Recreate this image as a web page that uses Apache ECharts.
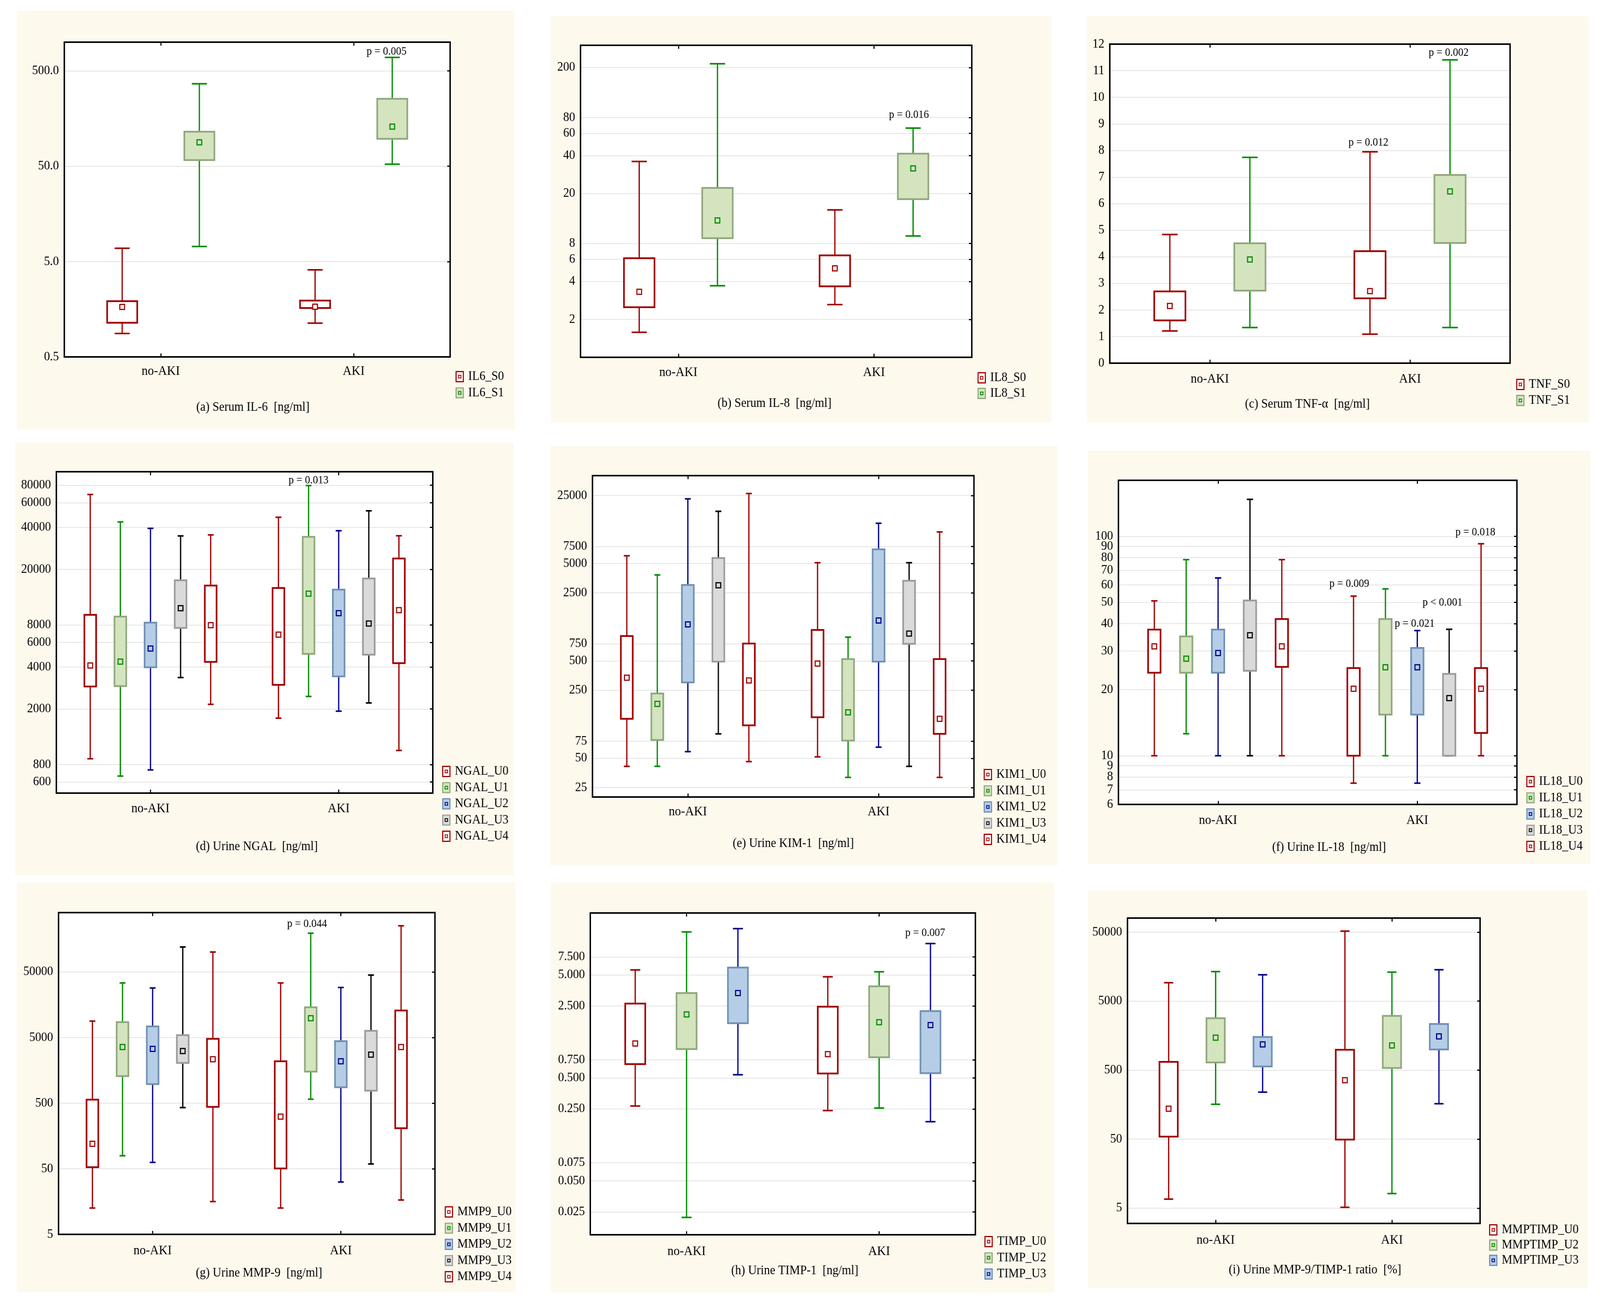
<!DOCTYPE html>
<html><head><meta charset="utf-8">
<script src="https://cdn.jsdelivr.net/npm/echarts@6/dist/echarts.min.js"></script>
<style>html,body{margin:0;padding:0;background:#fff;overflow:hidden}#c{width:4429px;height:3347px}</style>
</head><body><div id="c"></div>
<script>
// ---------- categories ----------
const categories = ['no-AKI', 'AKI'];

// ---------- data: per category [min, Q1, median, Q3, max] ----------
const IL6_S0 = [[0.88, 1.14, 1.67, 1.92, 6.9], [1.13, 1.63, 1.68, 1.95, 4.1]];
const IL6_S1 = [[7.2, 58, 89, 115, 366], [52.5, 97, 130, 255, 692]];

const IL8_S0 = [[1.58, 2.5, 3.31, 6.12, 35.9], [2.62, 3.66, 5.08, 6.44, 14.8]];
const IL8_S1 = [[3.7, 8.83, 12.2, 22.1, 214], [9.2, 18, 31.6, 41.4, 66]];

const TNF_S0 = [[1.21, 1.61, 2.15, 2.70, 4.84], [1.09, 2.44, 2.71, 4.21, 7.95]];
const TNF_S1 = [[1.34, 2.73, 3.90, 4.51, 7.74], [1.34, 4.52, 6.46, 7.08, 11.41]];

const NGAL_U0 = [[881, 2900, 4100, 9440, 68700], [1720, 2980, 6810, 14700, 47200]];
const NGAL_U1 = [[662, 2920, 4370, 9180, 43700], [2460, 4960, 13400, 34200, 79600]];
const NGAL_U2 = [[733, 3980, 5420, 8300, 39300], [1930, 3430, 9710, 14300, 37800]];
const NGAL_U3 = [[3360, 7610, 10540, 16700, 34700], [2210, 4900, 8190, 17200, 52500]];
const NGAL_U4 = [[2160, 4350, 7960, 15300, 35300], [1010, 4260, 10200, 23900, 34800]];

const KIM1_U0 = [[41.3, 127, 336, 900, 6010], [51.7, 132, 470, 1040, 5100]];
const KIM1_U1 = [[41.3, 77, 181, 231, 3820], [31.8, 76, 148, 522, 877]];
const KIM1_U2 = [[58.5, 301, 1186, 3010, 23100], [65, 492, 1300, 7000, 12970]];
const KIM1_U3 = [[89, 492, 2990, 5700, 17200], [41.3, 748, 955, 3330, 5100]];
const KIM1_U4 = [[46.2, 109, 315, 754, 26200], [31.8, 89, 127, 522, 10570]];

const IL18_U0 = [[10, 23.9, 31.5, 37.6, 50.8], [7.5, 10, 20.2, 25.1, 53.4]];
const IL18_U1 = [[12.6, 23.9, 27.7, 35.0, 78.3], [10, 15.4, 25.3, 42.0, 57.6]];
const IL18_U2 = [[10, 23.9, 29.4, 37.6, 64.6], [7.5, 15.4, 25.3, 31.0, 37.2]];
const IL18_U3 = [[10, 24.4, 35.4, 51.0, 147.4], [10, 10, 18.3, 23.6, 37.7]];
const IL18_U4 = [[10, 25.4, 31.5, 42.0, 78.3], [10, 12.7, 20.2, 25.1, 92.5]];

const MMP9_U0 = [[12.6, 52.8, 120, 564, 8890], [12.6, 50.5, 311, 2170, 33900]];
const MMP9_U1 = [[78.9, 1290, 3580, 8570, 33900], [574, 1510, 9840, 14400, 194000]];
const MMP9_U2 = [[62.5, 975, 3350, 7380, 28400], [31.4, 873, 2170, 4390, 28900]];
const MMP9_U3 = [[427, 2050, 3110, 5430, 119700], [59.1, 774, 2740, 6310, 44700]];
const MMP9_U4 = [[15.8, 439, 2330, 4770, 100300], [16.7, 207, 3580, 12900, 251600]];

const TIMP_U0 = [[0.267, 0.681, 1.08, 2.64, 5.60], [0.241, 0.553, 0.851, 2.46, 4.80]];
const TIMP_U2 = [[0.0221, 0.953, 2.07, 3.34, 13.1], [0.255, 0.794, 1.74, 3.88, 5.37]];
const TIMP_U3 = [[0.537, 1.70, 3.34, 5.90, 14.1], [0.188, 0.556, 1.63, 2.23, 10.1]];

const MMPTIMP_U0 = [[6.75, 54.3, 138, 658, 9250], [5.14, 49.3, 357, 988, 51800]];
const MMPTIMP_U2 = [[160, 646, 1480, 2830, 13400], [8.13, 537, 1140, 3060, 13150]];
const MMPTIMP_U3 = [[240, 566, 1180, 1510, 12050], [163, 996, 1540, 2330, 14260]];

// ---------- tick labels ----------
const ticksA = [0.5, 5, 50, 500];            const labelsA = ['0.5', '5.0', '50.0', '500.0'];
const ticksB = [2, 4, 6, 8, 20, 40, 60, 80, 200]; const labelsB = ['2', '4', '6', '8', '20', '40', '60', '80', '200'];
const ticksD = [600, 800, 2000, 4000, 6000, 8000, 20000, 40000, 60000, 80000];
const labelsD = ['600', '800', '2000', '4000', '6000', '8000', '20000', '40000', '60000', '80000'];
const ticksE = [25, 50, 75, 250, 500, 750, 2500, 5000, 7500, 25000];
const labelsE = ['25', '50', '75', '250', '500', '750', '2500', '5000', '7500', '25000'];
const ticksF = [6, 7, 8, 9, 10, 20, 30, 40, 50, 60, 70, 80, 90, 100];
const labelsF = ['6', '7', '8', '9', '10', '20', '30', '40', '50', '60', '70', '80', '90', '100'];
const ticksG = [5, 50, 500, 5000, 50000];     const labelsG = ['5', '50', '500', '5000', '50000'];
const ticksH = [0.025, 0.05, 0.075, 0.25, 0.5, 0.75, 2.5, 5, 7.5];
const labelsH = ['0.025', '0.050', '0.075', '0.250', '0.500', '0.750', '2.500', '5.000', '7.500'];
const ticksI = [5, 50, 500, 5000, 50000];     const labelsI = ['5', '50', '500', '5000', '50000'];

// ---------- styles ----------
const FONT = 'Liberation Serif';
const STY = {
  red:   { line: '#a00000', fill: '#ffffff', border: '#a00000' },
  green: { line: '#008c00', fill: '#d4e4bf', border: '#8fa77d' },
  blue:  { line: '#00008c', fill: '#b5cde6', border: '#7090b4' },
  gray:  { line: '#000000', fill: '#dadada', border: '#9b9b9b' }
};

const panels = [
  { log: true, min: 0.5, max: 1000, ticks: ticksA, labels: labelsA,
    series: [['IL6_S0', IL6_S0, 'red'], ['IL6_S1', IL6_S1, 'green']],
    grid: [178, 108, 1068, 806], bg: [47, 28, 1378, 1072], legend: [1261, 948, 8.5], margin: 20,
    title: ['(a) Serum IL-6  [ng/ml]', 700, 1043], p: [['p = 0.005', 1070, 132]] },
  { log: true, min: 1, max: 300, ticks: ticksB, labels: labelsB,
    series: [['IL8_S0', IL8_S0, 'red'], ['IL8_S1', IL8_S1, 'green']],
    grid: [1607, 116, 1083, 799], bg: [1525, 42, 1385, 1040], legend: [2706, 951, 7], margin: 22,
    title: ['(b) Serum IL-8  [ng/ml]', 2144, 1033], p: [['p = 0.016', 2516, 294]] },
  { log: false, min: 0, max: 12, interval: 1,
    series: [['TNF_S0', TNF_S0, 'red'], ['TNF_S1', TNF_S1, 'green']],
    grid: [3072, 113, 1108, 817], bg: [3008, 42, 1390, 1040], legend: [4197, 968, 8], margin: 24,
    title: ['(c) Serum TNF-α  [ng/ml]', 3619, 1035], p: [['p = 0.012', 3788, 365], ['p = 0.002', 4010, 135]] },
  { log: true, min: 500, max: 100000, ticks: ticksD, labels: labelsD,
    series: [['NGAL_U0', NGAL_U0, 'red'], ['NGAL_U1', NGAL_U1, 'green'], ['NGAL_U2', NGAL_U2, 'blue'], ['NGAL_U3', NGAL_U3, 'gray'], ['NGAL_U4', NGAL_U4, 'red']],
    grid: [156, 1208, 1042, 823], bg: [42, 1133, 1380, 1108], legend: [1224, 1959, 8.5], margin: 23,
    title: ['(d) Urine NGAL  [ng/ml]', 711, 2168], p: [['p = 0.013', 854, 1230]] },
  { log: true, min: 20, max: 40000, ticks: ticksE, labels: labelsE,
    series: [['KIM1_U0', KIM1_U0, 'red'], ['KIM1_U1', KIM1_U1, 'green'], ['KIM1_U2', KIM1_U2, 'blue'], ['KIM1_U3', KIM1_U3, 'gray'], ['KIM1_U4', KIM1_U4, 'red']],
    grid: [1640, 1218, 1056, 823], bg: [1523, 1142, 1404, 1075], legend: [2723, 1967, 8.5], margin: 21,
    title: ['(e) Urine KIM-1  [ng/ml]', 2196, 2160], p: [] },
  { log: true, min: 6, max: 180, ticks: ticksF, labels: labelsF,
    series: [['IL18_U0', IL18_U0, 'red'], ['IL18_U1', IL18_U1, 'green'], ['IL18_U2', IL18_U2, 'blue'], ['IL18_U3', IL18_U3, 'gray'], ['IL18_U4', IL18_U4, 'red']],
    grid: [3096, 1230, 1103, 830], bg: [3012, 1155, 1390, 1058], legend: [4225, 1985, 8.5], margin: 24,
    title: ['(f) Urine IL-18  [ng/ml]', 3679, 2170],
    p: [['p = 0.009', 3735, 1495], ['p = 0.021', 3916, 1597], ['p < 0.001', 3993, 1543], ['p = 0.018', 4084, 1363]] },
  { log: true, min: 5, max: 400000, ticks: ticksG, labels: labelsG,
    series: [['MMP9_U0', MMP9_U0, 'red'], ['MMP9_U1', MMP9_U1, 'green'], ['MMP9_U2', MMP9_U2, 'blue'], ['MMP9_U3', MMP9_U3, 'gray'], ['MMP9_U4', MMP9_U4, 'red']],
    grid: [162, 2337, 1042, 824], bg: [47, 2260, 1380, 1048], legend: [1231, 3087, 8.5], margin: 25,
    title: ['(g) Urine MMP-9  [ng/ml]', 717, 3260], p: [['p = 0.044', 850, 2366]] },
  { log: true, min: 0.015, max: 20, ticks: ticksH, labels: labelsH,
    series: [['TIMP_U0', TIMP_U0, 'red'], ['TIMP_U2', TIMP_U2, 'green'], ['TIMP_U3', TIMP_U3, 'blue']],
    grid: [1634, 2338, 1066, 824], bg: [1525, 2260, 1393, 1050], legend: [2725, 3163, 8.5], margin: 26,
    title: ['(h) Urine TIMP-1  [ng/ml]', 2200, 3254], p: [['p = 0.007', 2561, 2389]] },
  { log: true, min: 3, max: 80000, ticks: ticksI, labels: labelsI,
    series: [['MMPTIMP_U0', MMPTIMP_U0, 'red'], ['MMPTIMP_U2', MMPTIMP_U2, 'green'], ['MMPTIMP_U3', MMPTIMP_U3, 'blue']],
    grid: [3121, 2351, 976, 782], bg: [3012, 2281, 1382, 1018], legend: [4122, 3133, 6], margin: 26,
    title: ['(i) Urine MMP-9/TIMP-1 ratio  [%]', 3640, 3252], p: [] }
];

function iconFor(s) {
  const svg = '<svg xmlns="http://www.w3.org/2000/svg" width="46" height="58" viewBox="0 0 23 29">' +
    '<rect x="1.5" y="1.5" width="20" height="26" fill="' + s.fill + '" stroke="' + s.border + '" stroke-width="3"/>' +
    '<rect x="8" y="11" width="7" height="7" fill="none" stroke="' + s.line + '" stroke-width="2.2"/></svg>';
  return 'image://data:image/svg+xml;charset=utf-8,' + encodeURIComponent(svg);
}

function boxRender(idx, n, sty) {
  return function (params, api) {
    const cat = api.value(0);
    const band = api.size([1, 0])[0];
    const step = band * 0.8 / n;
    const cx = api.coord([cat, api.value(3)])[0] + (idx - (n - 1) / 2) * step;
    const Y = k => api.coord([cat, api.value(k)])[1];
    const yMin = Y(1), yQ1 = Y(2), yMed = Y(3), yQ3 = Y(4), yMax = Y(5);
    const bw = step * 0.39, cw = bw * 0.5, ms = 13;
    return { type: 'group', children: [
      { type: 'line', shape: { x1: cx, y1: yMax, x2: cx, y2: yMin }, style: { stroke: sty.line, lineWidth: 3.5 } },
      { type: 'line', shape: { x1: cx - cw / 2, y1: yMax, x2: cx + cw / 2, y2: yMax }, style: { stroke: sty.line, lineWidth: 4 } },
      { type: 'line', shape: { x1: cx - cw / 2, y1: yMin, x2: cx + cw / 2, y2: yMin }, style: { stroke: sty.line, lineWidth: 4 } },
      { type: 'rect', shape: { x: cx - bw / 2, y: yQ3, width: bw, height: Math.max(yQ1 - yQ3, 1) }, style: { fill: sty.fill, stroke: sty.border, lineWidth: 4.5 } },
      { type: 'rect', shape: { x: cx - ms / 2, y: yMed - ms / 2, width: ms, height: ms }, style: { fill: sty.fill, stroke: sty.line, lineWidth: 3 } }
    ] };
  };
}

// label order: neighbour-of-max first, then the rest, max last (keeps every label visible)
function labelOrder(tv) {
  const n = tv.length;
  if (n < 3) return tv.slice();
  return [tv[n - 2]].concat(tv.slice(0, n - 2), [tv[n - 1]]);
}

const grids = [], xAxes = [], yAxes = [], series = [], legends = [], elements = [];
panels.forEach((P, pi) => {
  const tf = P.log ? (v => Math.log10(v)) : (v => v);
  grids.push({ left: P.grid[0], top: P.grid[1], width: P.grid[2], height: P.grid[3], show: true,
    backgroundColor: '#ffffff', borderColor: '#000', borderWidth: 4, containLabel: false, outerBoundsMode: 'none' });
  xAxes.push({ type: 'category', gridIndex: pi, data: categories, position: 'bottom',
    axisLine: { show: true, onZero: false, lineStyle: { color: '#000', width: 4 } },
    axisTick: { show: true, inside: true, alignWithLabel: true, length: 9, lineStyle: { color: '#000', width: 3 } },
    axisLabel: { show: true, margin: P.margin, color: '#000', fontFamily: FONT, fontSize: 34 },
    splitLine: { show: false } });
  xAxes.push({ type: 'category', gridIndex: pi, data: categories, position: 'top',
    axisLine: { show: true, onZero: false, lineStyle: { color: '#000', width: 4 } },
    axisTick: { show: true, inside: true, alignWithLabel: true, length: 9, lineStyle: { color: '#000', width: 3 } },
    axisLabel: { show: false }, splitLine: { show: false } });
  const yBase = { type: 'value', gridIndex: pi, min: tf(P.min), max: tf(P.max) };
  let tickOpt = {}, labelOpt = {};
  if (P.log) {
    const tv = P.ticks.map(tf);
    tickOpt = { customValues: tv };
    labelOpt = { customValues: labelOrder(tv), formatter: v => {
      let best = 0, bd = Infinity;
      tv.forEach((t, i) => { const d = Math.abs(t - v); if (d < bd) { bd = d; best = i; } });
      return P.labels[best];
    } };
  } else {
    yBase.interval = P.interval;
  }
  yAxes.push(Object.assign({}, yBase, { position: 'left',
    axisLine: { show: true, onZero: false, lineStyle: { color: '#000', width: 4 } },
    axisTick: Object.assign({ show: false }, tickOpt),
    axisLabel: Object.assign({ show: true, margin: 15, color: '#000', fontFamily: FONT, fontSize: 33, lineHeight: 18,
      hideOverlap: false, showMinLabel: true, showMaxLabel: true }, labelOpt),
    splitLine: { show: true, lineStyle: { color: '#e3e3e3', width: 2 } } }));
  yAxes.push(Object.assign({}, yBase, { position: 'right',
    axisLine: { show: true, onZero: false, lineStyle: { color: '#000', width: 4 } },
    axisTick: Object.assign({ show: P.log, inside: true, length: 8, lineStyle: { color: '#000', width: 3 } }, tickOpt),
    axisLabel: { show: false }, splitLine: { show: false } }));

  const n = P.series.length;
  P.series.forEach((s, si) => {
    const sty = STY[s[2]];
    series.push({ type: 'custom', name: s[0], xAxisIndex: 2 * pi, yAxisIndex: 2 * pi,
      color: sty.line, renderItem: boxRender(si, n, sty), encode: { x: 0, y: [1, 2, 3, 4, 5] },
      data: s[1].map((d, ci) => [ci].concat(d.map(tf))) });
  });
  legends.push({ left: P.legend[0], top: P.legend[1], orient: 'vertical', padding: 0,
    itemWidth: 23, itemHeight: 29, itemGap: P.legend[2], selectedMode: false,
    textStyle: { fontFamily: FONT, fontSize: 33, lineHeight: 29, color: '#000', padding: [0, 0, 0, 7] },
    data: P.series.map(s => ({ name: s[0], icon: iconFor(STY[s[2]]) })) });
  elements.push({ type: 'rect', z: -5, silent: true, shape: { x: P.bg[0], y: P.bg[1], width: P.bg[2], height: P.bg[3] },
    style: { fill: '#fdf9ed' } });
  elements.push({ type: 'text', z: 10, x: P.title[1], y: P.title[2],
    style: { text: P.title[0], fill: '#000', font: '33px "' + FONT + '"', textAlign: 'center', textVerticalAlign: 'middle', align: 'center', verticalAlign: 'middle' } });
  P.p.forEach(pl => {
    elements.push({ type: 'text', z: 10, x: pl[1], y: pl[2],
      style: { text: pl[0], fill: '#000', font: '29px "' + FONT + '"', textAlign: 'center', textVerticalAlign: 'middle', align: 'center', verticalAlign: 'middle' } });
  });
});

// fit the 4429x3347 design into whatever viewport the page is given
const W = 4429, H = 3347;
const vw = window.innerWidth || W, vh = window.innerHeight || H;
const box = document.getElementById('c');
if (Math.abs(vw - W) > 2 || Math.abs(vh - H) > 2) {
  box.style.transformOrigin = '0 0';
  box.style.transform = 'scale(' + (vw / W) + ',' + (vh / H) + ')';
}

const chart = echarts.init(box, null, { renderer: 'canvas', width: W, height: H });
chart.setOption({
  backgroundColor: '#ffffff',
  animation: false,
  grid: grids, xAxis: xAxes, yAxis: yAxes, series: series, legend: legends,
  graphic: { elements: elements }
});
</script></body></html>
